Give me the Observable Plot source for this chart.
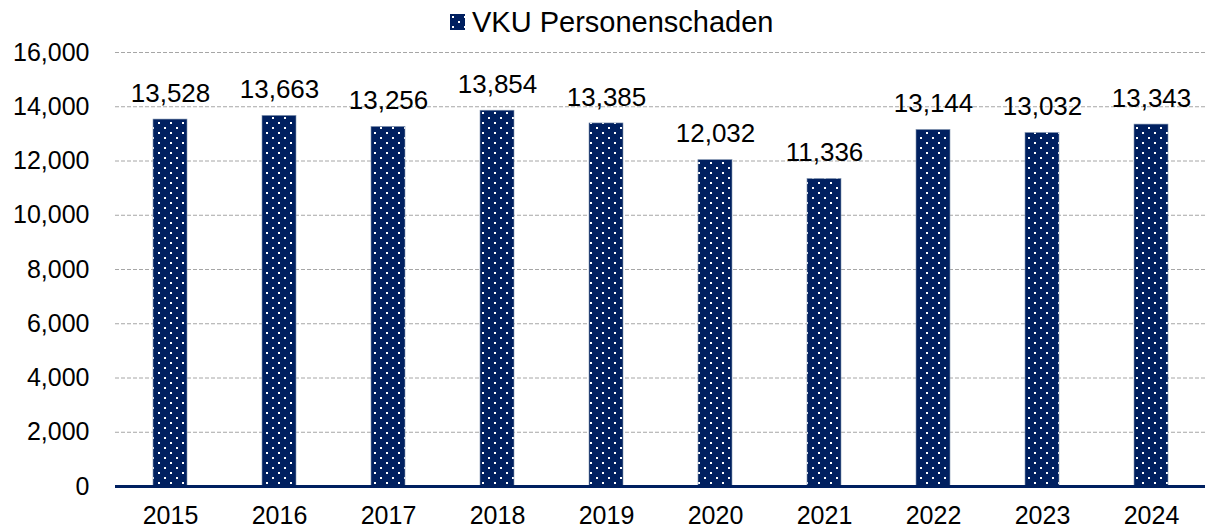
<!DOCTYPE html>
<html>
<head>
<meta charset="utf-8">
<script src="https://cdn.jsdelivr.net/npm/d3@7"></script>
<script src="https://cdn.jsdelivr.net/npm/@observablehq/plot@0.6"></script>
<style>
  html, body { margin: 0; padding: 0; background: #fff; }
  body { width: 1210px; height: 532px; overflow: hidden; font-family: "Liberation Sans", Arial, sans-serif; }
  #legend { height: 40px; position: relative; }
  #legend .sw { position: absolute; left: 450px; top: 14px; width: 15px; height: 16px; }
  #legend .lbl { position: absolute; left: 472px; top: 6px; font-size: 29px; line-height: 32px; color: #000; }
  svg { overflow: visible; }
</style>
</head>
<body>
<div id="legend">
  <svg class="sw" width="15" height="16" shape-rendering="crispEdges"><defs>
    <pattern id="dotsL" width="12" height="10" patternUnits="userSpaceOnUse">
      <rect width="12" height="10" fill="#002060"></rect>
      <rect x="2" y="2" width="2" height="2" fill="#fff"></rect>
      <rect x="8" y="7" width="2" height="2" fill="#fff"></rect>
    </pattern></defs>
    <rect width="15" height="16" fill="url(#dotsL)"></rect>
  </svg>
  <div class="lbl">VKU Personenschaden</div>
</div>
<div id="chart"></div>
<script>
const years = ["2015","2016","2017","2018","2019","2020","2021","2022","2023","2024"];
const values = [13528, 13663, 13256, 13854, 13385, 12032, 11336, 13144, 13032, 13343];
const yTicks = [0, 2000, 4000, 6000, 8000, 10000, 12000, 14000, 16000];
const seriesName = "VKU Personenschaden";

const data = years.map((y, i) => ({year: y, value: values[i]}));
const fmt = d3.format(",");

const chart = Plot.plot({
  width: 1210,
  height: 492,
  marginLeft: 115,
  marginRight: 5,
  marginTop: 12,
  marginBottom: 46,
  style: {fontFamily: "'Liberation Sans', Arial, sans-serif", background: "#fff", color: "#000"},
  x: {domain: years, paddingInner: 0.69, paddingOuter: 0.345, label: null},
  y: {domain: [0, 16000], label: null},
  marks: [
    Plot.ruleY(yTicks.filter(d => d > 0), {stroke: "#a6a6a6", strokeWidth: 1, strokeDasharray: "4,2"}),
    Plot.barY(data, {x: "year", y: "value", fill: "url(#dots)", stroke: "#8496b0", strokeWidth: 0.6, title: d => seriesName + " " + d.year}),
    Plot.ruleY([0], {stroke: "#002060", strokeWidth: 3}),
    Plot.text(data, {x: "year", y: "value", text: d => fmt(d.value), dy: -26, lineAnchor: "middle", fontSize: 26, fill: "#000"}),
    Plot.axisY({ticks: yTicks, tickFormat: fmt, tickSize: 0, tickPadding: 26, fontSize: 25, label: null}),
    Plot.axisX({tickSize: 0, tickPadding: 20, fontSize: 25, label: null})
  ]
});

const ns = "http://www.w3.org/2000/svg";
const defs = document.createElementNS(ns, "defs");
defs.innerHTML = `<pattern id="dots" width="12" height="10" patternUnits="userSpaceOnUse" shape-rendering="crispEdges">
  <rect width="12" height="10" fill="#002060"></rect>
  <rect x="2" y="2" width="2" height="2" fill="#fff"></rect>
  <rect x="8" y="7" width="2" height="2" fill="#fff"></rect>
</pattern>`;
chart.insertBefore(defs, chart.firstChild);
document.getElementById("chart").appendChild(chart);
</script>
</body>
</html>
